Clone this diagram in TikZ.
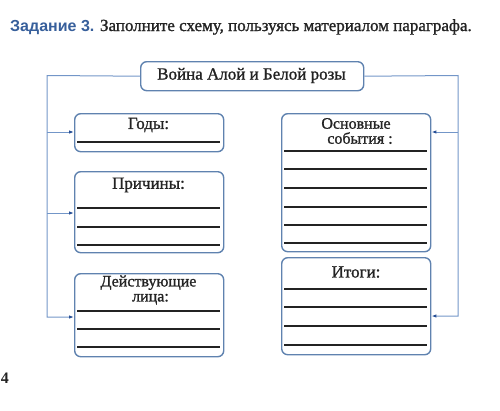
\documentclass[tikz,border=0pt]{standalone}
\usepackage{fontspec}
\setmainfont{Liberation Serif}[FakeBold=1.2]
\newfontfamily\headfont{Liberation Sans}
\newfontfamily\pagefont{Liberation Serif}
\usetikzlibrary{arrows.meta}
\definecolor{boxblue}{RGB}{95,130,175}
\definecolor{linkblue}{RGB}{115,150,200}
\definecolor{tipblue}{RGB}{40,80,150}
\definecolor{ink}{RGB}{35,35,35}
\definecolor{headblue}{RGB}{55,95,155}
\begin{document}
\begin{tikzpicture}[x=1pt,y=-1pt,
  panel/.style={draw=boxblue, line width=1.4pt, rounded corners=6pt, inner sep=0pt, anchor=north west},
  rule/.style={draw=ink, line width=1.2pt},
  link/.style={draw=linkblue, line width=1pt},
  tolink/.style={link, -{Latex[length=5pt,width=3.5pt,color=tipblue]}},
  lbl/.style={font=\fontsize{17}{14}\selectfont, text=ink, align=center, inner sep=0pt},
  lbltwo/.style={lbl, font=\fontsize{16}{15}\selectfont}]
\useasboundingbox (0,0) rectangle (500,410);

% heading
\node[anchor=base west, inner sep=0pt, text=ink, font=\fontsize{17}{17}\selectfont] (task) at (10,31)
  {{\headfont\bfseries\fontsize{16}{16}\selectfont\color{headblue}Задание 3.} Заполните схему, пользуясь материалом параграфа.};

% boxes
\node[panel, minimum width=223pt, minimum height=29pt] (title) at (140,61) {};
\node[panel, minimum width=149pt, minimum height=38pt] (godi) at (74,113) {};
\node[panel, minimum width=149pt, minimum height=81pt] (prich) at (74,171) {};
\node[panel, minimum width=149pt, minimum height=83pt] (deist) at (74,273) {};
\node[panel, minimum width=149pt, minimum height=138pt] (osn) at (281,113) {};
\node[panel, minimum width=149pt, minimum height=97pt] (itogi) at (281,257) {};

% labels
\node[lbl] (titletext) at (251.5,75.5) {Война Алой и Белой розы};
\node[lbl] (goditext) at (148.5,125) {Годы:};
\node[lbl] (prichtext) at (148.5,185) {Причины:};
\node[lbltwo] (deisttext) at (148.5,290) {Действующие\\\ лица:};
\node[lbltwo] (osntext) at (356,131) {Основные\\\ \ события :};
\node[lbl] (itogitext) at (356,272) {Итоги:};

% writing rules
\foreach \y in {142}{\draw[rule] (77,\y) -- (220,\y);}
\foreach \y in {208,227,245}{\draw[rule] (77,\y) -- (220,\y);}
\foreach \y in {311,329,347}{\draw[rule] (77,\y) -- (220,\y);}
\foreach \y in {151,169,188,207,225,243}{\draw[rule] (284,\y) -- (427,\y);}
\foreach \y in {289,307,326,345}{\draw[rule] (284,\y) -- (427,\y);}

% connectors
\coordinate (lt) at (47,75.5);
\coordinate (lg) at (47,132);
\coordinate (lp) at (47,213);
\coordinate (lb) at (47,317);
\coordinate (rt) at (458,75.5);
\coordinate (ro) at (458,132);
\coordinate (rb) at (458,316);
\draw[tolink] (title.west) -- (lt) -- (lb) -- (lb -| deist.west);
\draw[tolink] (lg) -- (lg -| godi.west);
\draw[tolink] (lp) -- (lp -| prich.west);
\draw[tolink] (title.east) -- (rt) -- (rb) -- (rb -| itogi.east);
\draw[tolink] (ro) -- (ro -| osn.east);

% page number
\node[font=\pagefont\bfseries\fontsize{16}{16}\selectfont, text=ink, inner sep=0pt] (pg) at (5,378) {4};
\end{tikzpicture}
\end{document}
